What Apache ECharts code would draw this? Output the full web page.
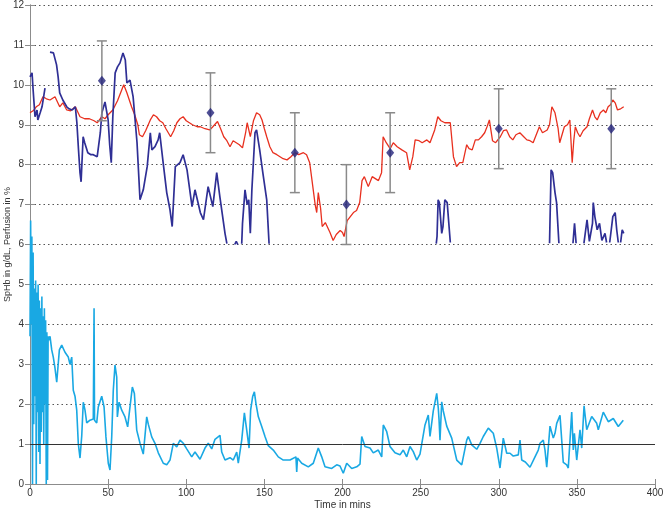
<!DOCTYPE html>
<html>
<head>
<meta charset="utf-8">
<script src="https://cdn.jsdelivr.net/npm/echarts@6/dist/echarts.min.js"></script>
<style>
  html, body { margin: 0; padding: 0; background: #fff; }
  #main { width: 666px; height: 510px; }
</style>
</head>
<body>
<div id="main"></div>
<script>
// SpHb (red), lab Hb segments (navy), perfusion index (cyan) over time
const redT = [0, 2, 4, 6, 8.3, 10.5, 12.8, 16, 19, 21, 23.5, 26, 29, 32, 35, 38, 41, 43, 46, 48, 50, 53, 56, 58, 60, 62, 65, 67, 69, 70, 72, 74, 77, 79, 81, 83, 85, 87, 90, 92, 94, 96, 98, 100, 102, 104, 107, 109, 112, 115, 117, 120, 122, 124, 126, 128, 130, 132, 134, 136, 138, 139, 141, 143, 145, 147, 148.5, 150, 151.5, 153.5, 155.5, 158, 160, 162, 164.5, 167, 169.5, 172, 175, 177, 179, 181, 182.5, 183.5, 184.5, 186, 187, 189, 190, 192, 194, 196, 198.5, 200, 201, 203, 205, 207, 209, 211, 212.5, 214, 216.5, 219, 221, 223, 225, 226, 228, 230.5, 232.5, 235, 238, 241, 243, 245, 246.5, 249, 251, 254, 256, 259, 261, 263, 265.5, 269, 271, 273, 275, 277, 279.5, 281, 283, 285, 287, 289, 291, 292.5, 294, 296, 298, 301, 303, 305, 307, 309, 311, 313.5, 316, 318, 320, 322, 324, 326, 328, 331, 332.5, 334, 336, 338, 339, 340.5, 342, 344, 345.5, 347, 348, 349, 350.5, 352, 354, 356.5, 358, 360, 361.5, 363, 365, 367, 368.5, 370, 371.5, 373, 374.5, 376, 378, 380];
const redV = [9.3, 9.35, 9.45, 9.5, 9.7, 9.65, 9.62, 9.7, 9.45, 9.55, 9.37, 9.35, 9.45, 9.2, 9.15, 9.15, 9.1, 9.05, 9.2, 9.15, 9.25, 9.37, 9.6, 9.8, 10.0, 9.8, 9.45, 9.25, 9.0, 8.75, 8.7, 8.85, 9.12, 9.25, 9.2, 9.1, 9.05, 8.9, 8.7, 8.85, 9.05, 9.15, 9.2, 9.1, 9.05, 9.0, 8.95, 8.95, 8.9, 8.87, 8.95, 9.08, 8.9, 8.7, 8.6, 8.45, 8.6, 8.55, 8.5, 8.42, 8.8, 9.05, 8.7, 9.1, 9.3, 9.25, 9.12, 8.9, 8.7, 8.45, 8.3, 8.25, 8.2, 8.15, 8.12, 8.2, 8.3, 8.25, 8.3, 8.25, 8.05, 7.45, 7.0, 6.8, 7.3, 6.9, 6.45, 6.55, 6.6, 6.3, 6.1, 6.25, 6.35, 6.3, 6.2, 6.6, 6.7, 6.8, 6.85, 7.05, 7.6, 7.7, 7.45, 7.7, 7.65, 7.6, 7.8, 8.7, 8.55, 8.4, 8.55, 8.45, 8.37, 8.3, 7.87, 8.2, 8.62, 8.6, 8.55, 8.62, 8.55, 8.87, 9.2, 9.1, 9.05, 9.05, 8.2, 7.95, 8.05, 8.05, 8.5, 8.4, 8.37, 8.62, 8.62, 8.7, 8.8, 8.95, 9.12, 8.6, 8.55, 8.7, 8.85, 8.87, 8.7, 8.62, 8.75, 8.8, 8.7, 8.62, 8.6, 8.55, 8.75, 8.95, 8.8, 8.87, 9.0, 9.45, 9.3, 8.9, 8.55, 8.75, 8.95, 9.0, 9.12, 8.05, 8.6, 8.95, 8.8, 8.7, 8.85, 8.95, 9.15, 9.37, 9.2, 9.12, 9.3, 9.37, 9.3, 9.45, 9.5, 9.62, 9.55, 9.37, 9.4, 9.45];

const navyT = [0, 1.3, 2, 3.2, 4.5, 5, 6.5, 7.7, 9.6, 11, 12.8, 14, 15, 16, 17, 18, 19, 21, 23.5, 25, 27, 29, 30, 31, 32, 32.7, 34, 35, 37, 39, 40.5, 43, 45, 46, 48, 50, 51, 52, 53, 54.5, 56, 57.6, 59.5, 61, 62, 64, 66, 68.5, 70.4, 72.5, 75, 77, 78, 80, 82, 83, 85, 87.5, 89.6, 91, 93, 96, 98, 100.5, 103.7, 105.6, 109, 111, 114, 117, 119.5, 121.5, 124.8, 126, 127, 131, 132, 133, 134, 135.5, 136, 137.6, 139, 140, 141, 142, 144, 145, 147, 149, 151.5, 153, 154, 260, 260.5, 261.2, 262, 263.5, 264.3, 265.5, 267, 269, 270, 332.5, 333.5, 334.5, 336, 337, 338.5, 339, 347.5, 348.5, 349.5, 350.5, 354.5, 356.5, 358, 360, 360.5, 361.5, 363, 364.5, 366, 368, 369, 370, 371, 372, 373, 374.5, 375.5, 376.5, 377, 378, 379, 380];
const navyV = [10.2, 10.3, 9.87, 9.2, 9.37, 9.12, 9.3, 9.45, 9.92, null, 10.82, 10.78, 10.8, 10.8, 10.5, 10.2, 9.8, 9.62, 9.45, 9.4, 9.37, 9.45, 9.05, 8.4, 7.8, 7.57, 8.7, 8.55, 8.3, 8.25, 8.25, 8.2, 8.8, 9.3, 9.57, 9.12, 8.5, 8.05, 9.2, 10.3, 10.45, 10.55, 10.8, 10.62, 10.05, 10.12, 9.7, 8.55, 7.12, 7.37, 7.95, 8.8, 8.37, 8.45, 8.62, 8.8, 8.12, 7.3, 6.87, 6.45, 7.95, 8.05, 8.25, 7.87, 6.95, 7.37, 6.8, 6.62, 7.45, 6.95, 7.8, 7.2, 6.28, 6.02, null, 6.0, 6.08, 6.0, null, 6.02, 6.53, 7.37, 7.0, 7.12, 6.28, 7.37, 8.8, 8.87, 8.37, 7.8, 7.12, 6.02, null, 6.02, 6.2, 7.12, 7.05, 6.28, 6.45, 7.12, 7.05, 6.05, null, 6.03, 7.87, 7.8, 7.3, 7.05, 6.03, null, 6.03, 6.53, 6.03, null, 6.03, 6.62, 6.08, 6.53, 7.05, 6.7, 6.37, 6.53, 6.1, 6.28, 6.05, null, 6.05, 6.37, 6.7, 6.8, 6.37, 6.05, null, 6.05, 6.37, 6.28];

const cyanT = [0, 0.4, 0.8, 1.2, 1.6, 2.0, 2.4, 2.8, 3.2, 3.6, 4.0, 4.4, 4.8, 5.2, 5.6, 6.0, 6.4, 6.8, 7.2, 7.6, 8.0, 8.4, 8.8, 9.2, 9.6, 10.0, 10.4, 10.8, 11.2, 11.6, 12, 12.8, 13.9, 14.9, 16, 17.1, 18.8, 20.3, 22.4, 24.5, 25.6, 26.7, 27.7, 28.8, 29.9, 30.9, 32, 33.1, 34.1, 35.2, 36.3, 38.4, 40.5, 41, 41.3, 42.7, 43.7, 45.9, 47.4, 48.6, 50.1, 51.2, 52.3, 53.3, 54.4, 55.5, 55.9, 57, 58.7, 60.8, 62.5, 64, 65.5, 66.8, 68.3, 70.4, 72.5, 74.7, 75.7, 77.9, 80, 82.1, 85.3, 87.5, 89.6, 91.7, 93.9, 96, 98.1, 100.3, 103.5, 105.6, 108.8, 112, 114.1, 116.3, 118.4, 121.6, 122.7, 124.8, 128, 130.1, 132.3, 133.3, 135.5, 137.2, 138.7, 140.2, 141.2, 142.5, 143.6, 144.6, 146.1, 148.3, 150.4, 152.5, 155.7, 158.9, 162.1, 166.4, 170.2, 170.7, 171.2, 173.9, 178.1, 181.3, 184.5, 186.7, 188.8, 193.1, 196.3, 198.4, 200.5, 202.7, 205.9, 209.1, 211.2, 212.3, 214.4, 217.6, 219.7, 222.9, 225.1, 226.1, 228.3, 230.4, 233.6, 236.8, 238.9, 241.1, 243.2, 245.3, 247.5, 249.6, 252.8, 254.9, 256, 258.1, 260.3, 261.3, 261.8, 262.4, 263.5, 264.5, 266.7, 269.9, 273.1, 276.3, 277.3, 279.5, 280.5, 282.7, 285.9, 288, 290.1, 293.3, 296.5, 298.7, 300.8, 302.9, 305.1, 307.2, 309.3, 312.5, 313.6, 314.7, 317, 320, 323.2, 325.3, 326.4, 328.5, 329.6, 330.7, 332.8, 334.9, 336, 337.1, 339.2, 341.3, 343.5, 344.5, 346.7, 347.7, 348.4, 349.9, 350.9, 352, 353.1, 354.6, 355.2, 356.3, 357.3, 359.5, 360.5, 362.7, 363.7, 366.9, 370.1, 373.3, 374.4, 376.5, 377.6, 379.7];
const cyanV = [3.7, 6.6, 4.0, 6.2, 0.0, 5.8, 1.5, 4.9, 2.2, 5.1, 0.0, 4.8, 1.8, 5.0, 0.8, 4.6, 0.5, 4.4, 1.3, 4.7, 1.8, 4.2, 1.0, 4.4, 2.0, 4.1, 0.0, 3.8, 0.1, 3.7, 3.6, 3.7, 3.36, 3.18, 2.9, 2.55, 3.36, 3.48, 3.3, 3.18, 3.0, 3.18, 2.35, 2.2, 1.85, 1.02, 0.65, 1.2, 2.05, 1.85, 1.53, 1.6, 1.63, 4.4, 1.6, 1.53, 1.93, 2.2, 1.93, 1.18, 0.52, 0.35, 1.18, 2.35, 2.98, 2.68, 1.68, 2.05, 1.85, 1.68, 1.43, 1.93, 2.43, 2.27, 1.35, 1.02, 0.75, 1.68, 1.5, 1.18, 1.02, 0.78, 0.52, 0.48, 0.6, 1.02, 0.93, 1.1, 1.02, 0.88, 0.68, 0.8, 0.62, 0.9, 1.02, 0.88, 1.12, 1.22, 0.8, 0.6, 0.66, 0.6, 0.8, 0.52, 1.1, 1.78, 1.35, 0.9, 1.85, 2.19, 2.31, 2.02, 1.69, 1.44, 1.19, 0.96, 0.85, 0.68, 0.6, 0.6, 0.68, 0.3, 0.65, 0.52, 0.43, 0.52, 0.9, 0.68, 0.43, 0.39, 0.48, 0.45, 0.27, 0.52, 0.39, 0.43, 0.5, 1.19, 0.94, 0.9, 0.78, 0.85, 0.68, 1.48, 1.31, 0.94, 0.78, 0.73, 0.85, 0.68, 0.94, 0.81, 0.6, 0.75, 1.48, 1.73, 1.19, 1.83, 2.27, 1.9, 1.6, 1.1, 2.06, 1.83, 1.45, 1.15, 0.6, 0.48, 0.52, 1.1, 1.19, 0.98, 0.87, 1.02, 1.19, 1.4, 1.27, 0.9, 0.4, 1.15, 0.77, 0.77, 0.7, 0.73, 1.1, 0.6, 0.55, 0.42, 0.68, 0.85, 1.02, 1.1, 0.85, 0.42, 1.45, 1.15, 1.27, 1.52, 1.72, 0.54, 0.48, 0.4, 1.8, 0.85, 1.27, 0.6, 0.56, 1.36, 0.9, 1.96, 1.94, 1.36, 1.36, 1.69, 1.68, 1.52, 1.36, 1.8, 1.56, 1.64, 1.69, 1.44, 1.48, 1.6];

// lab Hb draws: mean with +/- error
const labT = [46, 115.5, 169.5, 202.5, 230.5, 300, 372];
const labV = [10.1, 9.3, 8.3, 7.0, 8.3, 8.9, 8.9];
const labErr = [1, 1, 1, 1, 1, 1, 1];

const pairs = (t, v) => t.map((x, i) => [x, v[i]]);

const chart = echarts.init(document.getElementById('main'));

const axisCol = '#8c8c8c';
const labelStyle = { color: '#333', fontSize: 10, fontFamily: 'Liberation Sans, Arial, sans-serif' };

chart.setOption({
  animation: false,
  grid: { left: 30, right: 11, top: 5, bottom: 26, containLabel: false, outerBoundsMode: 'none' },
  xAxis: [
    {
      type: 'value', min: 0, max: 400, interval: 50,
      name: 'Time in mins', nameLocation: 'middle', nameGap: 16, nameMoveOverlap: false,
      nameTextStyle: labelStyle,
      axisLine: { lineStyle: { color: axisCol } },
      axisTick: { inside: true, length: 5, lineStyle: { color: axisCol } },
      axisLabel: Object.assign({ margin: 4 }, labelStyle),
      splitLine: { show: false }
    },
    {
      type: 'value', min: 0, max: 400, interval: 50, position: 'top',
      axisLine: { show: true, lineStyle: { color: axisCol } },
      axisTick: { inside: true, length: 5, lineStyle: { color: axisCol } },
      axisLabel: { show: false },
      splitLine: { show: false }
    }
  ],
  yAxis: [
    {
      type: 'value', min: 0, max: 12, interval: 1,
      name: 'SpHb in g/dL, Perfusion in %', nameLocation: 'middle', nameGap: 18, nameMoveOverlap: false,
      nameTextStyle: Object.assign({}, labelStyle, { fontSize: 9 }),
      axisLine: { show: true, lineStyle: { color: axisCol } },
      axisTick: { show: true, inside: true, length: 5, lineStyle: { color: axisCol } },
      axisLabel: Object.assign({ margin: 6 }, labelStyle),
      splitLine: { show: true, lineStyle: { color: '#555', type: [1.5, 3], width: 1 } }
    },
    {
      type: 'value', min: 0, max: 12, interval: 1, position: 'right',
      axisLine: { show: true, lineStyle: { color: axisCol } },
      axisTick: { show: true, inside: true, length: 5, lineStyle: { color: axisCol } },
      axisLabel: { show: false },
      splitLine: { show: false }
    }
  ],
  series: [
    {
      name: 'Perfusion', type: 'line', data: pairs(cyanT, cyanV),
      showSymbol: false, symbol: 'none',
      lineStyle: { color: '#19a8e3', width: 1.6 },
      markLine: {
        silent: true, symbol: 'none', label: { show: false },
        lineStyle: { color: '#333', type: 'solid', width: 1 },
        data: [{ yAxis: 1 }]
      },
      z: 2
    },
    {
      name: 'SpHb', type: 'line', data: pairs(redT, redV),
      showSymbol: false, symbol: 'none',
      lineStyle: { color: '#e8301f', width: 1.3 },
      z: 3
    },
    {
      name: 'Hb', type: 'line', data: pairs(navyT, navyV),
      showSymbol: false, symbol: 'none', connectNulls: false,
      lineStyle: { color: '#2f2f95', width: 1.7 },
      z: 3
    },
    {
      name: 'errors', type: 'custom',
      data: labT.map((t, i) => [t, labV[i] - labErr[i], labV[i] + labErr[i]]),
      renderItem: function (params, api) {
        const lo = api.coord([api.value(0), api.value(1)]);
        const hi = api.coord([api.value(0), api.value(2)]);
        const w = 5;
        const st = { stroke: '#8a8a8a', lineWidth: 1.5 };
        return {
          type: 'group',
          children: [
            { type: 'line', shape: { x1: lo[0], y1: lo[1], x2: hi[0], y2: hi[1] }, style: st },
            { type: 'line', shape: { x1: lo[0] - w, y1: lo[1], x2: lo[0] + w, y2: lo[1] }, style: st },
            { type: 'line', shape: { x1: hi[0] - w, y1: hi[1], x2: hi[0] + w, y2: hi[1] }, style: st }
          ]
        };
      },
      z: 4
    },
    {
      name: 'lab', type: 'scatter', data: pairs(labT, labV),
      symbol: 'diamond', symbolSize: [8, 10],
      itemStyle: { color: '#23237a' },
      z: 5
    }
  ]
});
</script>
</body>
</html>
